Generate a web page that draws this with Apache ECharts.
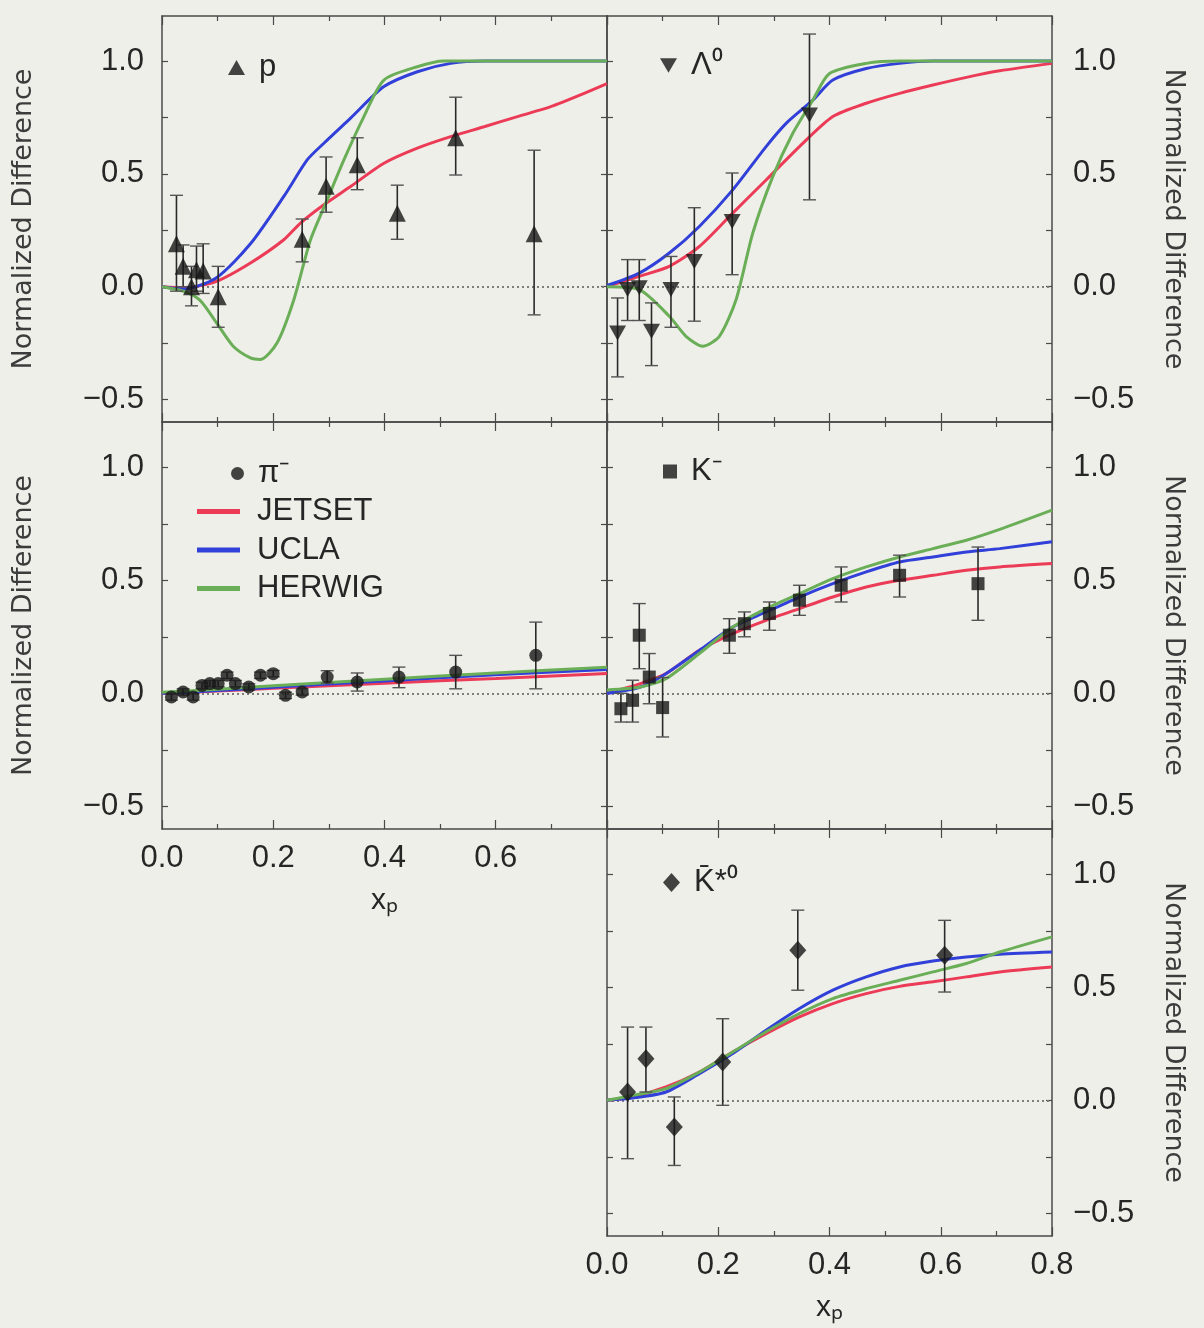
<!DOCTYPE html>
<html><head><meta charset="utf-8">
<script src="https://cdn.jsdelivr.net/npm/echarts@6/dist/echarts.min.js"></script>
<style>html,body{margin:0;padding:0;background:#efefe9}#c{width:1204px;height:1328px}</style>
</head><body><div id="c"></div>
<script>
// ---------- tick labels ----------
const xTicks = [0, 0.2, 0.4, 0.6, 0.8];
const yTicks = [-0.5, 0, 0.5, 1.0];
const yMinorTicks = [-0.5, -0.25, 0, 0.25, 0.5, 0.75, 1.0];

// ---------- proton (p) ----------
const pX  = [0.026, 0.038, 0.053, 0.062, 0.074, 0.101, 0.252, 0.295, 0.351, 0.423, 0.528, 0.669];
const pY  = [0.19, 0.09, 0.00, 0.075, 0.07, -0.045, 0.21, 0.445, 0.54, 0.325, 0.66, 0.235];
const pLo = [-0.02, 0.0, -0.085, -0.02, -0.03, -0.18, 0.11, 0.33, 0.43, 0.21, 0.495, -0.125];
const pHi = [0.405, 0.185, 0.09, 0.18, 0.19, 0.09, 0.30, 0.575, 0.66, 0.45, 0.84, 0.605];
const jetP  = [[0,0],[0.04,-0.005],[0.098,0.024],[0.159,0.105],[0.219,0.208],[0.249,0.282],[0.291,0.363],[0.339,0.444],[0.399,0.547],[0.459,0.614],[0.519,0.665],[0.579,0.709],[0.639,0.754],[0.699,0.798],[0.759,0.857],[0.8,0.9]];
const uclaP = [[0,0],[0.038,-0.01],[0.098,0.04],[0.159,0.19],[0.219,0.40],[0.261,0.562],[0.291,0.636],[0.339,0.747],[0.399,0.887],[0.459,0.953],[0.519,0.99],[0.579,1.0],[0.8,1.0]];
const herP  = [[0,0],[0.038,-0.02],[0.068,-0.06],[0.098,-0.16],[0.128,-0.264],[0.159,-0.316],[0.177,-0.323],[0.207,-0.249],[0.237,-0.058],[0.267,0.208],[0.297,0.385],[0.327,0.562],[0.363,0.754],[0.399,0.916],[0.459,0.975],[0.507,1.0],[0.8,1.0]];

// ---------- Lambda0 ----------
const lX  = [0.019, 0.037, 0.058, 0.08, 0.115, 0.157, 0.225, 0.364];
const lY  = [-0.205, -0.013, -0.005, -0.198, -0.013, 0.112, 0.289, 0.761];
const lLo = [-0.40, -0.15, -0.15, -0.35, -0.18, -0.153, 0.053, 0.385];
const lHi = [-0.05, 0.12, 0.12, -0.072, 0.134, 0.35, 0.504, 1.12];
const jetL  = [[0,0],[0.058,0.046],[0.112,0.09],[0.166,0.178],[0.226,0.326],[0.286,0.473],[0.346,0.621],[0.406,0.754],[0.466,0.813],[0.526,0.857],[0.586,0.894],[0.646,0.928],[0.706,0.957],[0.8,0.99]];
const uclaL = [[0,0.005],[0.058,0.06],[0.112,0.149],[0.166,0.267],[0.226,0.429],[0.286,0.621],[0.322,0.724],[0.37,0.827],[0.406,0.916],[0.466,0.967],[0.526,0.99],[0.586,1.0],[0.8,1.0]];
const herL  = [[0,0],[0.058,-0.013],[0.112,-0.131],[0.142,-0.22],[0.172,-0.264],[0.202,-0.22],[0.232,-0.058],[0.262,0.237],[0.298,0.488],[0.334,0.68],[0.37,0.827],[0.4,0.945],[0.466,0.99],[0.526,1.0],[0.8,1.0]];

// ---------- pi- ----------
const piX  = [0.017, 0.038, 0.056, 0.072, 0.086, 0.101, 0.117, 0.132, 0.156, 0.177, 0.2, 0.222, 0.252, 0.297, 0.351, 0.426, 0.528, 0.672];
const piY  = [-0.016, 0.006, -0.016, 0.035, 0.043, 0.043, 0.08, 0.043, 0.028, 0.08, 0.087, -0.009, 0.006, 0.072, 0.05, 0.072, 0.094, 0.168];
const piLo = [-0.03, -0.008, -0.03, 0.021, 0.029, 0.029, 0.066, 0.029, 0.014, 0.066, 0.073, -0.023, -0.008, 0.045, 0.01, 0.025, 0.02, 0.02];
const piHi = [-0.002, 0.02, -0.002, 0.049, 0.057, 0.057, 0.094, 0.057, 0.042, 0.094, 0.101, 0.005, 0.02, 0.1, 0.09, 0.116, 0.168, 0.315];
const jetPi  = [[0,0],[0.1,0.01],[0.2,0.022],[0.4,0.045],[0.6,0.066],[0.8,0.088]];
const uclaPi = [[0,0],[0.1,0.012],[0.2,0.027],[0.4,0.055],[0.6,0.082],[0.8,0.105]];
const herPi  = [[0,0.005],[0.1,0.018],[0.2,0.033],[0.4,0.062],[0.6,0.09],[0.8,0.115]];

// ---------- K- ----------
const kX  = [0.025, 0.046, 0.058, 0.076, 0.1, 0.22, 0.247, 0.292, 0.346, 0.421, 0.526, 0.667];
const kY  = [-0.068, -0.031, 0.257, 0.072, -0.063, 0.257, 0.308, 0.353, 0.412, 0.478, 0.522, 0.485];
const kLo = [-0.127, -0.127, 0.109, -0.046, -0.193, 0.177, 0.25, 0.279, 0.345, 0.404, 0.426, 0.323];
const kHi = [0.0, 0.058, 0.397, 0.176, 0.07, 0.33, 0.36, 0.404, 0.478, 0.559, 0.611, 0.647];
const jetK  = [[0,0],[0.06,0.043],[0.106,0.087],[0.166,0.19],[0.226,0.264],[0.286,0.323],[0.346,0.375],[0.406,0.426],[0.466,0.47],[0.526,0.5],[0.586,0.522],[0.646,0.544],[0.706,0.559],[0.8,0.574]];
const uclaK = [[0,0],[0.06,0.028],[0.106,0.087],[0.166,0.19],[0.226,0.293],[0.286,0.36],[0.346,0.426],[0.406,0.485],[0.466,0.537],[0.526,0.581],[0.586,0.603],[0.646,0.625],[0.706,0.64],[0.8,0.67]];
const herK  = [[0,0.015],[0.06,0.028],[0.106,0.065],[0.166,0.176],[0.226,0.293],[0.286,0.375],[0.346,0.441],[0.406,0.507],[0.466,0.559],[0.526,0.603],[0.586,0.64],[0.646,0.677],[0.706,0.725],[0.8,0.81]];

// ---------- anti-K*0 ----------
const ksX  = [0.037, 0.07, 0.121, 0.208, 0.343, 0.607];
const ksY  = [0.037, 0.184, -0.118, 0.17, 0.664, 0.642];
const ksLo = [-0.258, 0.037, -0.288, -0.022, 0.487, 0.479];
const ksHi = [0.324, 0.324, 0.015, 0.361, 0.841, 0.796];
const jetKs  = [[0,0],[0.046,0.015],[0.106,0.059],[0.166,0.125],[0.226,0.214],[0.286,0.295],[0.346,0.369],[0.406,0.428],[0.466,0.472],[0.526,0.504],[0.586,0.524],[0.646,0.546],[0.706,0.568],[0.8,0.59]];
const uclaKs = [[0,0],[0.046,0.01],[0.106,0.037],[0.166,0.118],[0.226,0.207],[0.286,0.31],[0.346,0.406],[0.406,0.487],[0.466,0.546],[0.526,0.59],[0.586,0.616],[0.646,0.634],[0.706,0.646],[0.8,0.656]];
const herKs  = [[0,0],[0.046,0.022],[0.106,0.052],[0.166,0.125],[0.226,0.214],[0.286,0.303],[0.346,0.384],[0.406,0.45],[0.466,0.494],[0.526,0.531],[0.586,0.568],[0.646,0.605],[0.706,0.656],[0.8,0.723]];

const modelNames = ['JETSET', 'UCLA', 'HERWIG'];
const particleNames = ['p', '\u039B\u2070', '\u03C0\u207B', 'K\u207B', 'K\u0304*\u2070'];

// ---------- layout / style ----------
const FONT = "'Liberation Sans', Arial, Helvetica, sans-serif";
const TITLE_FONT = "'DejaVu Sans', 'Liberation Sans', sans-serif";
const TXT = '#262626';
const AX = '#4a4a4a';
const COLORS = ['#ec3b57', '#3140d8', '#6aae57'];
const GRIDS = [
  {left:162, top:16,  width:445, height:406},
  {left:607, top:16,  width:445, height:406},
  {left:162, top:422, width:445, height:407},
  {left:607, top:422, width:445, height:407},
  {left:607, top:829, width:445, height:407}
];
const LABEL_SIDE = ['left', 'right', 'left', 'right', 'right'];
const X_LABELS = [false, false, 'noMax', false, 'all'];

const panels = [
  {x:pX, y:pY, lo:pLo, hi:pHi, curves:[jetP, uclaP, herP], symbol:'triangle', size:17},
  {x:lX, y:lY, lo:lLo, hi:lHi, curves:[jetL, uclaL, herL], symbol:'path://M0,0L20,0L10,17Z', size:[17,15]},
  {x:piX, y:piY, lo:piLo, hi:piHi, curves:[jetPi, uclaPi, herPi], symbol:'circle', size:13},
  {x:kX, y:kY, lo:kLo, hi:kHi, curves:[jetK, uclaK, herK], symbol:'rect', size:13},
  {x:ksX, y:ksY, lo:ksLo, hi:ksHi, curves:[jetKs, uclaKs, herKs], symbol:'diamond', size:[17,19]}
];

const fmt = v => (v < 0 ? '\u2212' : '') + Math.abs(v).toFixed(1);
const axisLine = {show:true, onZero:false, lineStyle:{color:AX, width:1.5}};
const tickStyle = {color:AX, width:1.2};

const xAxis = [], yAxis = [], series = [];
GRIDS.forEach((g, i) => {
  const xl = X_LABELS[i];
  xAxis.push({
    gridIndex:i, type:'value', min:0, max:0.8, interval:0.2, position:'bottom',
    axisLine, splitLine:{show:false},
    axisTick:{show:true, inside:true, length:9, lineStyle:tickStyle},
    minorTick:{show:true, splitNumber:2, length:5, lineStyle:tickStyle},
    axisLabel:{show:!!xl, showMaxLabel: xl === 'all', margin:14, fontSize:31, fontFamily:FONT, color:TXT, formatter:fmt},
    name: xl ? 'x\u209A' : '', nameLocation:'middle', nameGap:57,
    nameTextStyle:{fontSize:30, fontFamily:FONT, color:TXT}
  });
  xAxis.push({
    gridIndex:i, type:'value', min:0, max:0.8, interval:0.2, position:'top',
    axisLine, splitLine:{show:false},
    axisTick:{show:true, inside:true, length:9, lineStyle:tickStyle},
    minorTick:{show:true, splitNumber:2, length:5, lineStyle:tickStyle},
    axisLabel:{show:false}
  });
  ['left', 'right'].forEach(side => {
    const lab = LABEL_SIDE[i] === side;
    yAxis.push({
      gridIndex:i, type:'value', min:-0.6, max:1.2, position:side,
      axisLine, splitLine:{show:false},
      axisTick:{show:true, inside:true, length:6, lineStyle:tickStyle, customValues:yMinorTicks},
      axisLabel:{show:lab, margin: side === 'left' ? 18 : 21, fontSize:31, fontFamily:FONT, color:TXT, formatter:fmt, customValues:yTicks},
      name: lab ? 'Normalized Difference' : '', nameLocation:'middle',
      nameGap: side === 'left' ? 125 : 108, nameRotate: side === 'left' ? 90 : -90,
      nameTextStyle:{fontSize:27, fontFamily:TITLE_FONT, color:'#3c3c3c'}
    });
  });

  const P = panels[i];
  P.curves.forEach((c, k) => {
    const s = {
      name:modelNames[k], type:'line', xAxisIndex:2*i, yAxisIndex:2*i,
      data:c, symbol:'none', smooth:0.25, color:COLORS[k],
      lineStyle:{color:COLORS[k], width:3}, itemStyle:{color:COLORS[k]}, z:3
    };
    if (k === 0) {
      s.markLine = {silent:true, symbol:'none', label:{show:false}, z:1,
        lineStyle:{type:[2,3], color:'#7d7d79', width:2}, data:[{yAxis:0}]};
    }
    series.push(s);
  });
  series.push({
    type:'custom', name:'err'+i, xAxisIndex:2*i, yAxisIndex:2*i, z:4,
    data:P.x.map((x, j) => [x, P.lo[j], P.hi[j]]),
    encode:{x:0, y:[1,2]},
    renderItem:(params, api) => {
      const x = api.value(0);
      const a = api.coord([x, api.value(2)]);
      const b = api.coord([x, api.value(1)]);
      const w = 6.5;
      const st = {stroke:'#2a2a2a', lineWidth:1.6};
      const cs = {stroke:'#555', lineWidth:1.4};
      return {type:'group', children:[
        {type:'line', shape:{x1:a[0], y1:a[1], x2:b[0], y2:b[1]}, style:st},
        {type:'line', shape:{x1:a[0]-w, y1:a[1], x2:a[0]+w, y2:a[1]}, style:cs},
        {type:'line', shape:{x1:b[0]-w, y1:b[1], x2:b[0]+w, y2:b[1]}, style:cs}
      ]};
    }
  });
  series.push({
    type:'scatter', name:particleNames[i], xAxisIndex:2*i, yAxisIndex:2*i, z:5,
    data:P.x.map((x, j) => [x, P.y[j]]),
    symbol:P.symbol, symbolSize:P.size, itemStyle:{color:'#161616'}
  });
});

const legText = {fontSize:31, fontFamily:FONT, color:TXT};
const pText = Object.assign({padding:[0,0,0,9]}, legText);
const legend = [
  {data:[particleNames[0]], left:228, top:52, itemWidth:17, itemHeight:15, textStyle:pText},
  {data:[particleNames[1]], left:660, top:50, itemWidth:17, itemHeight:15, textStyle:pText},
  {data:[particleNames[2]], left:231, top:458, itemWidth:13, itemHeight:13, textStyle:pText},
  {data:[particleNames[3]], left:663, top:456, itemWidth:14, itemHeight:14, textStyle:pText},
  {data:[particleNames[4]], left:663, top:867, itemWidth:17, itemHeight:19, textStyle:pText},
  {data:modelNames, orient:'vertical', left:197, top:496, itemGap:7.5, icon:'rect',
   itemWidth:43, itemHeight:5, textStyle:Object.assign({padding:[0,0,0,12]}, legText)}
].map(l => Object.assign({selectedMode:false, padding:0, itemStyle:{borderWidth:0}}, l));

const chart = echarts.init(document.getElementById('c'), null, {renderer:'canvas'});
chart.setOption({
  backgroundColor:'#efefe9',
  animation:false,
  grid:GRIDS.map(g => Object.assign({containLabel:false}, g)),
  xAxis, yAxis, series, legend
});
</script></body></html>
